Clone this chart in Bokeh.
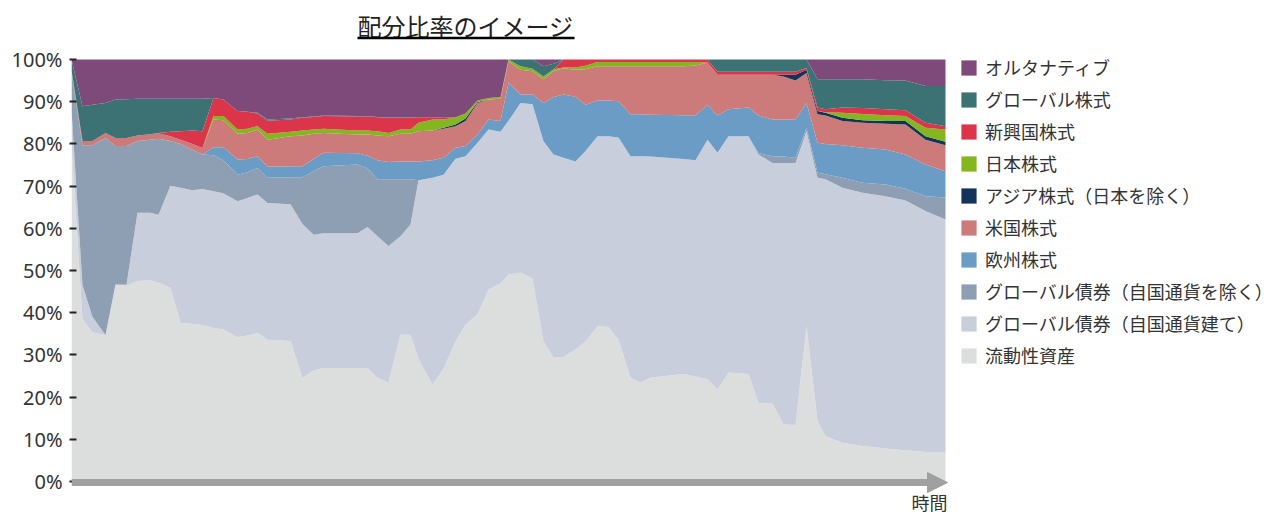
from bokeh.plotting import figure
from bokeh.models import (ColumnDataSource, Range1d, FixedTicker, PrintfTickFormatter,
                          Legend, LegendItem, Arrow, NormalHead)
from bokeh.core.properties import value
from bokeh.embed import file_html
from bokeh.resources import INLINE

# time position (arbitrary time units along the arrow axis)
time_pos = [0, 11, 21, 34, 44, 55, 66, 79, 87, 99, 109, 121, 131, 142, 152, 166, 176, 186, 196, 219,
            231, 242, 252, 286, 296, 306, 317, 329, 339, 347, 361, 372, 384, 394, 406, 417, 429, 437, 449, 461,
            472, 482, 492, 504, 514, 526, 537, 547, 559, 569, 579, 612, 624, 636, 646, 657, 677, 687, 701, 712,
            724, 735, 746, 754, 771, 791, 814, 834, 854, 874]

liquid = [80, 38.5, 35.3, 34.7, 46.7, 46.4, 47.5, 47.7, 47.1, 45.9,
          37.6, 37.3, 37.1, 36.4, 36.0, 34.2, 34.6, 35.2, 33.6, 33.3,
          24.6, 26.3, 26.9, 26.9, 26.9, 24.6, 23.4, 34.8, 34.8, 29.0,
          23.0, 26.7, 33.2, 37.2, 39.6, 45.5, 46.9, 49.0, 49.5, 48.1,
          33.2, 29.3, 29.5, 31.3, 33.2, 36.8, 36.6, 33.6, 24.6, 23.4,
          24.6, 25.5, 24.9, 24.2, 21.8, 25.8, 25.5, 18.6, 18.5, 13.5,
          13.4, 36.8, 14.3, 10.7, 9.2, 8.4, 7.8, 7.4, 7.0, 6.8]

bond_domestic = [8, 8.0, 3.7, 0, 0, 0.2, 16.2, 16.0, 16.1, 24.2,
                 32.0, 31.7, 32.2, 32.4, 32.3, 32.2, 32.6, 32.8, 32.4, 32.4,
                 36.4, 32.2, 31.9, 31.9, 33.4, 33.5, 32.4, 23.3, 26.1, 42.4,
                 49.0, 46.0, 43.3, 39.9, 40.7, 37.9, 36.0, 36.5, 40.2, 41.3,
                 47.4, 48.2, 47.2, 44.5, 45.1, 45.0, 45.2, 47.9, 52.5, 53.7,
                 52.4, 50.9, 51.2, 56.8, 56.1, 56.0, 56.3, 58.9, 57.0, 62.0,
                 62.1, 46.2, 57.7, 60.9, 60.4, 60.0, 59.8, 59.2, 57.1, 55.3]

bond_foreign = [9, 33.2, 40.7, 46.7, 32.8, 32.9, 17.0, 17.3, 18.0, 10.6,
                10.4, 9.6, 8.2, 8.5, 7.8, 6.3, 6.1, 6.3, 6.0, 6.4,
                11.1, 15.0, 15.9, 16.3, 13.9, 13.5, 15.8, 13.5, 10.7, 0,
                0, 0, 0, 0, 0, 0, 0, 0, 0, 0,
                0, 0, 0, 0, 0, 0, 0, 0, 0, 0,
                0, 0, 0, 0, 0, 0, 0, 0.3, 1.6, 1.5,
                1.2, 0.8, 1.2, 1.2, 2.4, 2.4, 2.8, 2.8, 3.5, 5.2]

eq_europe = [0, 0, 0, 0, 0, 0, 0, 0, 0, 0,
             0, 0, 0, 1.9, 3.1, 3.6, 3.1, 2.8, 2.6, 2.6,
             2.6, 2.9, 3.2, 2.7, 3.0, 4.5, 4.1, 4.2, 4.2, 4.4,
             4.1, 4.0, 2.6, 2.4, 1.9, 2.4, 2.5, 9.0, 2.0, 2.3,
             9.1, 13.6, 15.0, 15.4, 11.0, 8.5, 8.5, 8.6, 9.9, 9.9,
             9.9, 10.4, 10.7, 8.3, 8.8, 6.4, 6.8, 8.9, 8.7, 8.8,
             9.1, 5.9, 7.1, 7.2, 7.7, 8.3, 8.3, 8.1, 7.5, 6.2]

eq_us = [0.5, 1.0, 1.0, 1.2, 1.9, 1.9, 1.3, 1.3, 1.3, 1.1,
         1.0, 1.4, 1.5, 6.6, 6.4, 6.1, 6.2, 6.3, 6.4, 7.1,
         7.3, 6.0, 4.7, 4.4, 5.0, 5.9, 6.1, 6.6, 6.6, 7.2,
         7.1, 6.9, 5.1, 5.9, 7.5, 4.7, 5.3, 5.1, 5.9, 5.5,
         5.6, 6.1, 6.2, 6.4, 8.4, 8.1, 8.1, 8.3, 11.4, 11.4,
         11.5, 11.6, 11.8, 10.0, 9.7, 8.2, 7.8, 9.7, 10.6, 10.2,
         9.2, 7.1, 6.7, 6.7, 5.7, 5.9, 6.1, 7.1, 5.9, 6.2]

eq_asia = [0, 0, 0, 0, 0, 0, 0, 0, 0, 0,
           0, 0, 0, 0, 0, 0, 0, 0, 0, 0,
           0, 0, 0, 0, 0, 0, 0, 0, 0, 0,
           0, 0.2, 0.4, 0.6, 0.2, 0, 0, 0, 0, 0,
           0, 0, 0, 0, 0, 0, 0, 0, 0, 0,
           0, 0, 0, 0, 0, 0, 0, 0, 0, 0.4,
           1.4, 0.8, 0.8, 0.7, 0.8, 0.6, 0.6, 0.8, 0.8, 0.8]

eq_japan = [0, 0, 0, 0, 0, 0, 0, 0, 0, 0,
            0, 0, 0, 0.8, 1.0, 1.0, 1.0, 0.8, 1.4, 1.1,
            1.2, 1.0, 1.0, 1.0, 1.0, 1.0, 0.8, 1.0, 1.0, 2.0,
            2.6, 2.0, 1.7, 1.2, 0.4, 0.4, 0.4, 0.4, 0.8, 0.6,
            0.7, 0.5, 0.2, 0.5, 0.8, 1.0, 1.0, 1.0, 1.0, 1.0,
            1.0, 1.0, 0.8, 0, 0, 0, 0, 0, 0, 0,
            0, 0, 0, 0.1, 1.2, 1.5, 1.4, 1.2, 2.0, 2.9]

eq_emerging = [0, 0, 0, 0, 0, 0, 0, 0, 0.1, 1.1,
               2.0, 3.2, 4.0, 4.3, 3.9, 4.4, 4.0, 3.0, 3.1, 2.9,
               3.0, 3.0, 3.0, 3.3, 3.3, 3.3, 3.6, 2.8, 2.8, 1.3,
               0.5, 0.4, 0, 0, 0, 0, 0, 0, 0, 0,
               0, 0, 1.9, 1.9, 1.5, 0.6, 0.6, 0.6, 0.6, 0.6,
               0.6, 0.6, 0.6, 0.7, 0.7, 0.7, 0.7, 0.7, 0.7, 0.7,
               0.7, 0.4, 0.8, 0.7, 1.2, 1.4, 1.4, 1.4, 1.2, 0.8]

eq_global = [2.5, 8.2, 8.6, 7.1, 9.1, 9.2, 8.7, 8.4, 8.1, 7.8,
             7.7, 7.5, 7.7, 0, 0, 0, 0, 0.2, 0.3, 0.2,
             0.1, 0.1, 0.1, 0.1, 0.1, 0.1, 0.1, 0.1, 0.1, 0,
             0, 0, 0, 0, 0, 0, 0, 0, 1.6, 2.2,
             2.4, 1.3, 0, 0, 0, 0, 0, 0, 0, 0,
             0, 0, 0, 0, 2.9, 2.9, 2.9, 2.9, 2.9, 2.9,
             2.9, 2.0, 6.7, 7.1, 6.7, 6.8, 6.9, 7.0, 8.7, 9.5]

alternative = [0, 11.1, 10.7, 10.3, 9.5, 9.4, 9.3, 9.3, 9.3, 9.3,
               9.3, 9.3, 9.3, 9.1, 9.5, 12.2, 12.4, 12.6, 14.2, 14.0,
               13.7, 13.5, 13.3, 13.4, 13.4, 13.6, 13.7, 13.7, 13.7, 13.7,
               13.7, 13.8, 13.7, 12.8, 9.7, 9.1, 8.9, 0, 0, 0,
               1.6, 1.0, 0, 0, 0, 0, 0, 0, 0, 0,
               0, 0, 0, 0, 0, 0, 0, 0, 0, 0,
               0, 0, 4.7, 4.7, 4.7, 4.7, 4.9, 5.0, 6.3, 6.3]

series_keys = ["liquid", "bond_domestic", "bond_foreign", "eq_europe", "eq_us",
               "eq_asia", "eq_japan", "eq_emerging", "eq_global", "alternative"]
series_labels = ["流動性資産", "グローバル債券（自国通貨建て）", "グローバル債券（自国通貨を除く）",
                 "欧州株式", "米国株式", "アジア株式（日本を除く）", "日本株式", "新興国株式",
                 "グローバル株式", "オルタナティブ"]
series_colors = ["#dcdedd", "#c8cedb", "#8f9fb3", "#6b9cc5", "#cd7b7a",
                 "#12345a", "#84b71f", "#dc3448", "#3d7275", "#7e4a7a"]
y_ticks = [0, 10, 20, 30, 40, 50, 60, 70, 80, 90, 100]
title_text = "配分比率のイメージ"
x_label = "時間"

source = ColumnDataSource(data=dict(
    t=time_pos, liquid=liquid, bond_domestic=bond_domestic, bond_foreign=bond_foreign,
    eq_europe=eq_europe, eq_us=eq_us, eq_asia=eq_asia, eq_japan=eq_japan,
    eq_emerging=eq_emerging, eq_global=eq_global, alternative=alternative))

p = figure(width=1277, height=517, output_backend="svg", toolbar_location=None,
           x_range=Range1d(0, 1206), y_range=Range1d(-8.531, 111.611),
           min_border_left=71, min_border_right=0, min_border_top=10, min_border_bottom=0,
           title=None)
p.outline_line_color = None
p.background_fill_color = "white"
p.border_fill_color = "white"
p.xgrid.visible = False
p.ygrid.visible = False
p.xaxis.visible = False

renderers = p.varea_stack(stackers=series_keys, x="t", color=series_colors, source=source)

# y axis
ya = p.yaxis[0]
ya.ticker = FixedTicker(ticks=y_ticks)
ya.formatter = PrintfTickFormatter(format="%d%%")
ya.axis_line_color = None
ya.major_tick_in = 5
ya.major_tick_out = 2
ya.major_tick_line_width = 2
ya.major_tick_line_color = "#222222"
ya.minor_tick_line_color = None
ya.major_label_standoff = 7
ya.major_label_text_font = "Noto Sans"
ya.major_label_text_font_size = "20px"
ya.major_label_text_color = "#333333"

# time arrow along the bottom
gray = "#a0a0a0"
p.add_layout(Arrow(end=NormalHead(size=20, fill_color=gray, line_color=gray, line_width=1),
                   x_start=0, y_start=-0.25, x_end=876, y_end=-0.25,
                   line_color=gray, line_width=7))

p.text(x=[858], y=[-4.95], text=[x_label], text_align="center", text_baseline="middle",
       text_font=value("Noto Sans CJK JP"), text_font_size="18px", text_color="#333333")

# title with underline
p.text(x=[394], y=[108.1], text=[title_text], text_align="center", text_baseline="middle",
       text_font=value("Noto Sans CJK JP"), text_font_size="24px", text_color="#222222")
p.segment(x0=[286], y0=[105.1], x1=[503], y1=[105.1], line_width=2.5, line_color="black")

items = [LegendItem(label=series_labels[i], renderers=[renderers[i]])
         for i in range(len(series_keys) - 1, -1, -1)]
legend = Legend(items=items, location=(888, 149), border_line_color=None,
                background_fill_alpha=0, padding=0, margin=0, spacing=6,
                glyph_width=19, glyph_height=19, label_standoff=7, label_height=18,
                label_text_font="Noto Sans CJK JP", label_text_font_size="18px",
                label_text_color="#333333")
p.add_layout(legend)

open("out.html", "w").write(file_html(p, INLINE))
